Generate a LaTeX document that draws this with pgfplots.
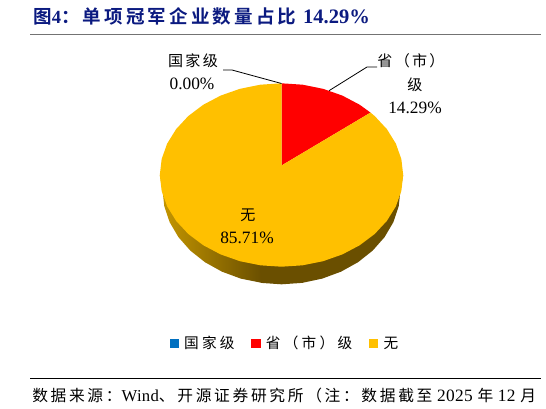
\documentclass[border=0pt]{standalone}
\usepackage{fontspec}
\usepackage{xcolor}
\usepackage{pgfplots}
\pgfplotsset{compat=1.18}
\setmainfont{Liberation Serif}
\newfontfamily\cjk[LetterSpace=15]{Noto Sans CJK SC}
\newfontfamily\cjkleg[LetterSpace=22]{Noto Sans CJK SC}
\newfontfamily\cjksrc[LetterSpace=17]{Noto Sans CJK SC}
\newfontfamily\lat[LetterSpace=2]{Liberation Serif}
\newfontfamily\cjktitle[LetterSpace=17,BoldFont={Noto Sans CJK SC Bold}]{Noto Sans CJK SC}
\definecolor{tcol}{HTML}{0B1A80}
\definecolor{py}{HTML}{FFC000}
\definecolor{pr}{HTML}{FF0000}
\definecolor{pb}{HTML}{0070C0}
\definecolor{dk}{HTML}{6A4F00}
\definecolor{gd}{HTML}{C69700}
\begin{document}
\begin{tikzpicture}
\begin{axis}[
  scale only axis, width=409.5pt, height=306pt,
  xmin=0, xmax=546, ymin=0, ymax=408, y dir=reverse,
  hide axis, clip=false,
  legend columns=3,
  legend cell align=left,
  area legend,
  legend image code/.code={\fill[#1] (0pt,-0.1pt) rectangle (7.2pt,7.1pt);\path[fill=none,draw=none] (0pt,0pt) rectangle (11pt,1pt);},
  legend style={draw=none, fill=none, at={(axis cs:169.5,343)}, anchor=west,
    inner sep=0pt, outer sep=0pt, font=\fontsize{11}{13}\selectfont,
    /tikz/every even column/.append style={column sep=12.5pt},
    nodes={inner sep=0pt, anchor=base west}},
]
% side of the disc
\addplot[forget plot, draw=none, left color=gd, right color=dk] coordinates {(262,282.9)(240.8,278.61)(222,271.67)(205.01,262.24)(190.34,250.61)(178.45,237.15)(169.68,222.25)(164.31,206.37)(162.5,190)(159.8,175)(262,175)} -- cycle;
\addplot[forget plot, draw=none, fill=dk] coordinates {(403.2,175)(400.5,190)(398.69,206.37)(393.32,222.25)(384.55,237.15)(372.66,250.61)(357.99,262.24)(341,271.67)(322.2,278.61)(302.16,282.87)(281.5,284.3)(260.84,282.87)(258,200)} -- cycle;
% slices: 0.00, 14.29, 85.71
\addplot[draw=none, fill=pb] coordinates {(281.5,165.5)(281.5,83.3)} -- cycle;
\addlegendentry{\cjkleg 国家级}
\addplot[draw=none, fill=pr] coordinates {(281.5,165.5)(281.5,83.3)(302.63,84.69)(323.12,88.83)(342.35,95.59)(359.73,104.76)(370.5,112.6)} -- cycle;
\addlegendentry{\cjkleg 省（市）级\hspace{3pt}}
\addplot[draw=none, fill=py] coordinates {(281.5,165.5)(370.5,112.6)(374.72,116.05)(386.89,129.15)(395.86,143.64)(401.35,159.08)(403.2,175)(401.35,190.92)(395.86,206.36)(386.89,220.85)(374.72,233.95)(359.73,245.24)(342.35,254.41)(323.12,261.17)(302.63,265.31)(281.5,266.7)(260.37,265.31)(239.88,261.17)(220.65,254.41)(203.27,245.24)(188.28,233.95)(176.11,220.85)(167.14,206.36)(161.65,190.92)(159.8,175)(161.65,159.08)(167.14,143.64)(176.11,129.15)(188.28,116.05)(203.27,104.76)(220.65,95.59)(239.88,88.83)(260.37,84.69)(281.5,83.3)} -- cycle;
\addlegendentry{\cjkleg 无}
% leaders
\draw[black, line width=0.6pt] (axis cs:223,70)--(axis cs:232,70)--(axis cs:281.5,83.5);
\draw[black, line width=0.6pt] (axis cs:377,67)--(axis cs:367,67)--(axis cs:329,90.7);
% data labels
\node[inner sep=0pt] at (axis cs:193,61) {\fontsize{11.3}{13}\selectfont\cjk 国家级};
\node[inner sep=0pt] at (axis cs:192,84) {\fontsize{13}{14}\selectfont 0.00\%};
\node[inner sep=0pt] at (axis cs:411,61) {\fontsize{11.3}{13}\selectfont\cjk 省（市）};
\node[inner sep=0pt] at (axis cs:415,85) {\fontsize{11.3}{13}\selectfont\cjk 级};
\node[inner sep=0pt] at (axis cs:415,108) {\fontsize{13}{14}\selectfont 14.29\%};
\node[inner sep=0pt] at (axis cs:248,215) {\fontsize{11.3}{13}\selectfont\cjk 无};
\node[inner sep=0pt] at (axis cs:247,238) {\fontsize{13}{14}\selectfont 85.71\%};
% title and rules
\node[inner sep=0pt, anchor=west, text=tcol] at (axis cs:33,16) {\fontsize{13.9}{16}\selectfont\bfseries\cjktitle 图\rmfamily 4\cjktitle：单项冠军企业数量占比\hspace{5pt}\rmfamily\fontsize{15.4}{16}\selectfont 14.29\%};
\draw[color=black!55, line width=1.1pt] (axis cs:30,34.5)--(axis cs:541,34.5);
\draw[black, line width=0.8pt] (axis cs:30,378.5)--(axis cs:541,378.5);
\node[inner sep=0pt, anchor=west] at (axis cs:32,396) {\fontsize{11.8}{14}\selectfont\cjksrc 数据来源：\fontsize{12.5}{14}\selectfont\lat Wind\fontsize{11.8}{14}\selectfont\cjksrc 、开源证券研究所（注：数据截至\fontsize{13}{14}\selectfont\lat\ 2025 \fontsize{11.8}{14}\selectfont\cjksrc 年\fontsize{13}{14}\selectfont\lat\ 12 \fontsize{11.8}{14}\selectfont\cjksrc 月};
\end{axis}
\pgfresetboundingbox
\path[use as bounding box] (0,0) rectangle (409.5pt,306pt);
\end{tikzpicture}
\end{document}
